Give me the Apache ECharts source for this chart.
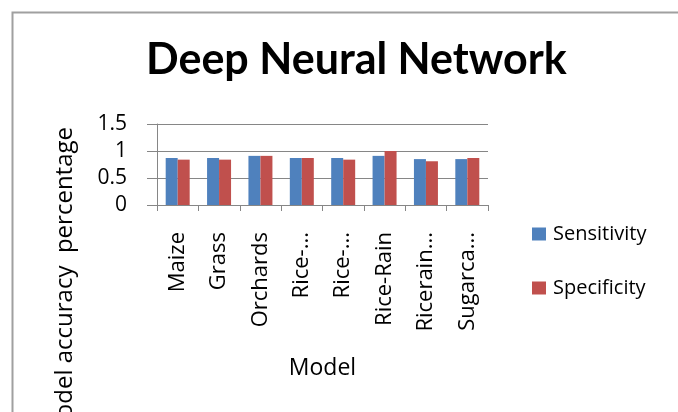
<!DOCTYPE html>
<html>
<head>
<meta charset="utf-8">
<script src="https://cdn.jsdelivr.net/npm/echarts@6/dist/echarts.min.js"></script>
<style>
  html, body { margin: 0; padding: 0; background: #fff; }
  #chart { width: 678px; height: 412px; }
</style>
</head>
<body>
<div id="chart"></div>
<script>
// Land-cover classes (labels as shown on the axis)
const categories = ['Maize', 'Grass', 'Orchards', 'Rice-...', 'Rice-...', 'Rice-Rain', 'Ricerain...', 'Sugarca...'];
// Per-class scores
const sensitivity = [0.87, 0.87, 0.91, 0.87, 0.87, 0.91, 0.85, 0.85];
const specificity = [0.84, 0.84, 0.91, 0.87, 0.84, 1.00, 0.81, 0.87];
const yTicks = [0, 0.5, 1, 1.5];

const TITLE_FONT = 'Lato, "Open Sans", sans-serif';
const FONT = '"Open Sans", Lato, sans-serif';
const chart = echarts.init(document.getElementById('chart'));

chart.setOption({
  animation: false,
  backgroundColor: '#ffffff',
  title: {
    text: 'Deep Neural Network',
    left: 141,
    top: 34,
    textStyle: { fontFamily: TITLE_FONT, fontWeight: 'bold', fontSize: 43, color: '#000' }
  },
  legend: {
    orient: 'vertical',
    left: 532,
    top: 224,
    padding: 0,
    itemWidth: 14,
    itemHeight: 13,
    itemGap: 34,
    icon: 'rect',
    textStyle: { fontFamily: FONT, fontSize: 20, lineHeight: 20, color: '#000', padding: [0, 0, 0, 2] },
    data: ['Sensitivity', 'Specificity']
  },
  grid: { left: 157, right: 190, top: 124, bottom: 207, containLabel: false },
  xAxis: {
    type: 'category',
    data: categories,
    name: 'Model',
    nameLocation: 'middle',
    nameGap: 152,
    nameTextStyle: { fontFamily: FONT, fontSize: 23, color: '#000' },
    axisLine: { lineStyle: { color: '#868686', width: 1 } },
    axisTick: { show: true, alignWithLabel: false, length: 6, lineStyle: { color: '#868686' } },
    axisLabel: {
      rotate: 90,
      margin: 27,
      interval: 0,
      fontFamily: FONT,
      fontSize: 22,
      color: '#000'
    }
  },
  yAxis: {
    type: 'value',
    min: 0,
    max: 1.5,
    interval: 0.5,
    axisLine: { show: true, lineStyle: { color: '#868686' } },
    axisTick: { show: true, length: 10, lineStyle: { color: '#868686' } },
    splitLine: { lineStyle: { color: '#868686', width: 1 } },
    axisLabel: {
      margin: 30,
      fontFamily: FONT,
      fontSize: 21,
      color: '#000',
      formatter: v => (yTicks.indexOf(v) >= 0 ? String(v) : '')
    }
  },
  graphic: [
    {
      type: 'rect',
      shape: { x: 12.5, y: 12.5, width: 700, height: 420 },
      style: { fill: 'none', stroke: '#a0a0a0', lineWidth: 2 },
      silent: true
    },
    {
      type: 'text',
      x: 65,
      y: 127,
      rotation: Math.PI / 2,
      style: {
        text: 'Model accuracy  percentage',
        fontFamily: FONT,
        fontSize: 24,
        fill: '#000',
        align: 'right',
        verticalAlign: 'middle'
      },
      silent: true
    }
  ],
  series: [
    {
      name: 'Sensitivity',
      type: 'bar',
      data: sensitivity,
      barWidth: 12,
      barGap: '0%',
      itemStyle: { color: '#4F81BD' }
    },
    {
      name: 'Specificity',
      type: 'bar',
      data: specificity,
      barWidth: 12,
      barGap: '0%',
      itemStyle: { color: '#C0504D' }
    }
  ]
});
</script>
</body>
</html>
